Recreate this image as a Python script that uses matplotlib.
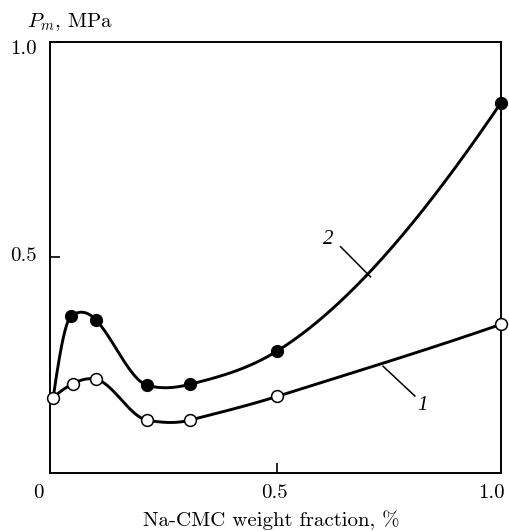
import numpy as np
import matplotlib
matplotlib.use("Agg")
import matplotlib.pyplot as plt

# data
x1 = [0.0, 0.045, 0.095, 0.21, 0.305, 0.5, 1.0]
y1 = [0.175, 0.208, 0.218, 0.123, 0.123, 0.178, 0.345]

x2 = [0.04, 0.095, 0.21, 0.305, 0.5, 1.0]
y2 = [0.364, 0.356, 0.204, 0.206, 0.283, 0.858]
# curve 2 starts at the same point as curve 1
start2 = (0.0, 0.175)

xticks = [0, 0.5, 1.0]
xticklabels = ["0", "0.5", "1.0"]
yticks = [0.5, 1.0]
yticklabels = ["0.5", "1.0"]


def akima(x, y, xs):
    """akima spline through the points (little overshoot)"""
    x = np.asarray(x, float)
    y = np.asarray(y, float)
    n = len(x)
    h = np.diff(x)
    m = np.diff(y) / h
    # two extra slopes at each end
    mm = np.empty(n + 3)
    mm[2:n + 1] = m
    mm[1] = 2 * mm[2] - mm[3]
    mm[0] = 2 * mm[1] - mm[2]
    mm[n + 1] = 2 * mm[n] - mm[n - 1]
    mm[n + 2] = 2 * mm[n + 1] - mm[n]
    t = np.empty(n)
    for i in range(n):
        w1 = abs(mm[i + 3] - mm[i + 2])
        w2 = abs(mm[i + 1] - mm[i])
        if w1 + w2 == 0:
            t[i] = 0.5 * (mm[i + 1] + mm[i + 2])
        else:
            t[i] = (w1 * mm[i + 1] + w2 * mm[i + 2]) / (w1 + w2)
    out = np.empty_like(xs)
    for k, xv in enumerate(xs):
        i = min(max(np.searchsorted(x, xv) - 1, 0), n - 2)
        s = (xv - x[i]) / h[i]
        h00 = 2 * s ** 3 - 3 * s ** 2 + 1
        h10 = s ** 3 - 2 * s ** 2 + s
        h01 = -2 * s ** 3 + 3 * s ** 2
        h11 = s ** 3 - s ** 2
        out[k] = h00 * y[i] + h10 * h[i] * t[i] + h01 * y[i + 1] + h11 * h[i] * t[i + 1]
    return out


plt.rcParams["mathtext.fontset"] = "cm"
plt.rcParams["font.family"] = "serif"
plt.rcParams["font.serif"] = ["cmr10"]
plt.rcParams["axes.formatter.use_mathtext"] = True

fig = plt.figure(figsize=(5.1, 5.31), dpi=100)
ax = fig.add_axes([0.099, 0.1087, 0.883, 0.8128])

xs = np.linspace(0, 1.0, 800)
xa = [start2[0]] + x2
ya = [start2[1]] + y2
ax.plot(xs, akima(xa, ya, xs), color="black", lw=2.1, zorder=2)
ax.plot(xs, akima(x1, y1, xs), color="black", lw=2.1, zorder=2)

ax.plot(x2, y2, "o", color="black", ms=8.5, mec="black", mew=1, zorder=3, clip_on=False)
ax.plot(x1, y1, "o", color="white", ms=8.5, mec="black", mew=1.1, zorder=4, clip_on=False)

# curve labels with leader lines
ax.plot([0.642, 0.709], [0.525, 0.455], color="black", lw=1.1)
ax.text(0.614, 0.542, "2", fontsize=15, style="italic", family="Liberation Serif",
        ha="center", va="center")
ax.plot([0.737, 0.808], [0.248, 0.179], color="black", lw=1.1)
ax.text(0.826, 0.156, "1", fontsize=15, style="italic", family="Liberation Serif",
        ha="center", va="center")

ax.set_xlim(-0.006, 1.0)
ax.set_ylim(0, 1.0)
# only the inner tick marks show; the end ones fall on the frame
ax.set_xticks(xticks[1:2])
ax.set_xticklabels([])
ax.set_yticks(yticks)
ax.set_yticklabels([])
ax.tick_params(direction="in", length=7, width=1.2)
for s in ax.spines.values():
    s.set_linewidth(1.4)

# tick labels sit a little off their ticks in the original
xlab_pos = [-0.033, 0.494, 0.98]
for xp, lab in zip(xlab_pos, xticklabels):
    ax.text(xp, -0.046, lab, transform=ax.get_xaxis_transform(), fontsize=15,
            ha="center", va="center")
ylab_pos = [0.503, 0.982]
for yp, lab in zip(ylab_pos, yticklabels):
    ax.text(-0.03, yp, lab, transform=ax.get_yaxis_transform(), fontsize=15,
            ha="right", va="center")

fig.text(271 / 510, 1 - 520 / 531, "Na-CMC weight fraction, %", fontsize=15,
         ha="center", va="center")
fig.text(27 / 510, 1 - 22 / 531, r"$P_m$, MPa", fontsize=15, ha="left", va="center")

fig.savefig("out.png", dpi=100)
